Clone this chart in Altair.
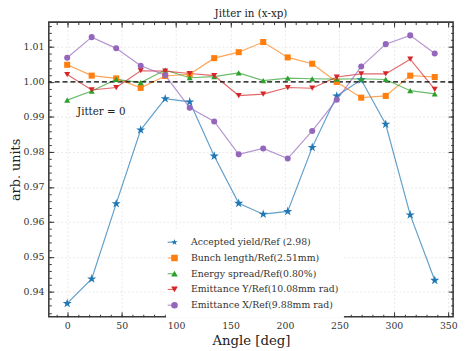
import altair as alt
import pandas as pd

# ---------------- data ----------------
angles = [0, 22.5, 45, 67.5, 90, 112.5, 135, 157.5, 180, 202.5, 225, 247.5, 270, 292.5, 315, 337.5]
series_names = [
    "Accepted yield/Ref (2.98)",
    "Bunch length/Ref(2.51mm)",
    "Energy spread/Ref(0.80%)",
    "Emittance Y/Ref(10.08mm rad)",
    "Emittance X/Ref(9.88mm rad)",
]
series_keys = ["k1", "k2", "k3", "k4", "k5"]
colors = ["#1f77b4", "#ff7f0e", "#2ca02c", "#d62728", "#9467bd"]

yield_ratio = [0.9367, 0.9437, 0.9652, 0.9863, 0.9952, 0.9943, 0.9788, 0.9653,
               0.9622, 0.9630, 0.9813, 0.9960, 1.0006, 0.9879, 0.9620, 0.9433]
bunch_ratio = [1.0049, 1.0018, 1.0010, 0.9983, 1.0017, 1.0022, 1.0068, 1.0085,
               1.0114, 1.0070, 1.0052, 1.0000, 0.9955, 0.9960, 1.0018, 1.0014]
energy_ratio = [0.9948, 0.9974, 1.0007, 0.9998, 1.0034, 1.0012, 1.0015, 1.0026,
                1.0004, 1.0011, 1.0009, 1.0008, 1.0009, 1.0007, 0.9975, 0.9966]
emit_y_ratio = [1.0021, 0.9977, 0.9984, 1.0032, 1.0031, 1.0024, 1.0018, 0.9961,
                0.9965, 0.9984, 0.9982, 1.0014, 1.0023, 1.0023, 1.0065, 0.9979]
emit_x_ratio = [1.0069, 1.0128, 1.0096, 1.0046, 1.0019, 0.9926, 0.9887, 0.9793,
                0.9810, 0.9781, 0.9860, 0.9949, 1.0044, 1.0108, 1.0133, 1.0081]
all_series = [yield_ratio, bunch_ratio, energy_ratio, emit_y_ratio, emit_x_ratio]

ref_level = [1.0]
annot_x = [9]
annot_y = [0.9906]
annot_text = ["Jitter = 0"]

x_major = [0, 50, 100, 150, 200, 250, 300, 350]
x_minor = list(range(-10, 351, 10))
y_major = [0.94, 0.95, 0.96, 0.97, 0.98, 0.99, 1.00, 1.01]
y_minor = [round(0.934 + 0.002 * i, 3) for i in range(42)]

rows = []
for name, key, vals in zip(series_names, series_keys, all_series):
    for a, v in zip(angles, vals):
        rows.append({"series": name, "key": key, "angle": a, "value": v})
df = pd.DataFrame(rows)

star = ("M0,-1L0.2245,-0.309L0.951,-0.309L0.363,0.118L0.588,0.809L0,0.382"
        "L-0.588,0.809L-0.363,0.118L-0.951,-0.309L-0.2245,-0.309Z")
shapes = [star, "square", "triangle-up", "triangle-down", "circle"]

# ---------------- layout ----------------
W, H = 411, 299.5
FONT = "DejaVu Serif"
XS = alt.Scale(domain=[-16.875, 354.375], nice=False, zero=False)
YS = alt.Scale(domain=[0.9329, 1.0171], nice=False, zero=False)


def tick_axis(orient, offset, values, size):
    return alt.Axis(orient=orient, offset=offset, values=values, tickSize=size,
                    labels=False, domain=False, grid=False, title=None,
                    ticks=True, tickColor="#333333", tickWidth=1, zindex=1)


base = alt.Chart(df)

lines = base.mark_line(strokeWidth=1.2, opacity=0.7).encode(
    x=alt.X("angle:Q", scale=XS, axis=alt.Axis(
        values=x_major, title="Angle [deg]", grid=True, gridColor="#e3e3e3",
        gridDash=[2, 2], gridWidth=0.8, ticks=False, tickSize=0, domain=False,
        labelPadding=4, labelFont=FONT, labelFontSize=9.5, labelColor="#333333",
        titleFont=FONT, titleFontSize=13.5, titleFontWeight="normal",
        titleColor="#222222", titlePadding=4)),
    y=alt.Y("value:Q", scale=YS, axis=alt.Axis(
        values=y_major, format=".2f", title="arb. units", grid=True,
        gridColor="#e3e3e3", gridDash=[2, 2], gridWidth=0.8, ticks=False,
        tickSize=0, domain=False, labelPadding=5, labelFont=FONT,
        labelFontSize=9.5, labelColor="#333333", titleFont=FONT,
        titleFontSize=13, titleFontWeight="normal", titleColor="#222222",
        titlePadding=1)),
    stroke=alt.Stroke("key:N", scale=alt.Scale(domain=series_keys, range=colors),
                      legend=alt.Legend(
                          orient="none", legendX=120, legendY=216, title=None,
                          clipHeight=15.6, rowPadding=0, symbolType="stroke",
                          symbolSize=70, symbolStrokeWidth=1.2, symbolOpacity=0.7,
                          labelExpr="''", labelFontSize=9.5, padding=0,
                          zindex=3)),
    detail="key:N",
)

pt_legend = alt.Legend(orient="none", legendX=119, legendY=212, title=None,
                       clipHeight=15.6, rowPadding=0, symbolSize=45,
                       symbolStrokeWidth=0, labelOffset=12, labelFont=FONT,
                       labelFontSize=9.5, labelColor="#333333", padding=4,
                       fillColor="white", strokeColor="white", zindex=1)

points = base.mark_point(filled=True, opacity=1).encode(
    x=alt.X("angle:Q", scale=XS, axis=tick_axis("top", -H, x_major, 5)),
    y=alt.Y("value:Q", scale=YS, axis=tick_axis("right", -W, y_major, 5)),
    fill=alt.Fill("series:N", scale=alt.Scale(domain=series_names, range=colors),
                  legend=pt_legend),
    shape=alt.Shape("series:N", scale=alt.Scale(domain=series_names, range=shapes),
                    legend=pt_legend),
    size=alt.when(alt.datum.series == series_names[0]).then(alt.value(95)).otherwise(alt.value(38)),
)

ticks_a = base.mark_point(opacity=0).encode(
    x=alt.X("angle:Q", scale=XS, axis=tick_axis("bottom", -H, x_major, 5)),
    y=alt.Y("value:Q", scale=YS, axis=tick_axis("left", -W, y_major, 5)),
)
ticks_b = base.mark_point(opacity=0).encode(
    x=alt.X("angle:Q", scale=XS, axis=tick_axis("top", -H, x_minor, 2.5)),
    y=alt.Y("value:Q", scale=YS, axis=tick_axis("right", -W, y_minor, 2.5)),
)
ticks_c = base.mark_point(opacity=0).encode(
    x=alt.X("angle:Q", scale=XS, axis=tick_axis("bottom", -H, x_minor, 2.5)),
    y=alt.Y("value:Q", scale=YS, axis=tick_axis("left", -W, y_minor, 2.5)),
)

ref_rule = alt.Chart(pd.DataFrame({"y": ref_level})).mark_rule(
    color="black", strokeDash=[5, 3], strokeWidth=1.3
).encode(y=alt.Y("y:Q", scale=YS, axis=None))

annot = alt.Chart(pd.DataFrame({"x": annot_x, "y": annot_y, "t": annot_text})).mark_text(
    align="left", baseline="alphabetic", font=FONT, fontSize=10.5, color="#222222"
).encode(
    x=alt.X("x:Q", scale=XS, axis=None),
    y=alt.Y("y:Q", scale=YS, axis=None),
    text="t:N",
)

chart = alt.layer(lines, ref_rule, annot, points, ticks_a, ticks_b, ticks_c).resolve_axis(
    x="independent", y="independent"
).properties(
    width=W, height=H,
    title=alt.TitleParams("Jitter in (x-xp)", font=FONT, fontSize=10.5,
                          fontWeight="normal", color="#222222", offset=2.5,
                          anchor="middle"),
    autosize=alt.AutoSizeParams(type="none"),
    padding={"left": 41.5, "top": 11.5, "right": 6, "bottom": 30},
).configure_view(stroke="#3a3a3a", strokeWidth=1.6)

chart.save("out.html", embed_options={"renderer": "svg", "actions": False})
